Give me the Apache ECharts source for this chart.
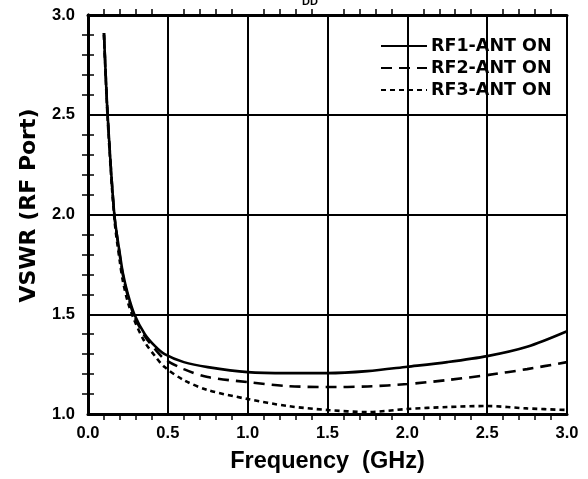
<!DOCTYPE html>
<html>
<head>
<meta charset="utf-8">
<script src="https://cdn.jsdelivr.net/npm/echarts@6/dist/echarts.min.js"></script>
<style>
html,body{margin:0;padding:0;background:#fff;}
#chart{width:588px;height:479px;}
</style>
</head>
<body>
<div id="chart"></div>
<script>
var freq = [0.1, 0.123, 0.165, 0.2, 0.22, 0.25, 0.29, 0.356, 0.42, 0.48, 0.6, 0.75, 1.0, 1.25, 1.5, 1.75, 2.0, 2.25, 2.5, 2.75, 3.0];
var rf1 = [2.91, 2.5, 2.0, 1.8, 1.7, 1.6, 1.5, 1.4, 1.34, 1.3, 1.26, 1.235, 1.21, 1.205, 1.205, 1.215, 1.237, 1.26, 1.29, 1.337, 1.415];
var rf2 = [2.91, 2.5, 2.0, 1.79, 1.69, 1.59, 1.49, 1.39, 1.325, 1.275, 1.225, 1.185, 1.16, 1.14, 1.135, 1.138, 1.15, 1.17, 1.195, 1.225, 1.26];
var rf3 = [2.9, 2.48, 1.98, 1.76, 1.66, 1.56, 1.47, 1.36, 1.29, 1.235, 1.17, 1.12, 1.075, 1.04, 1.02, 1.01, 1.025, 1.035, 1.04, 1.028, 1.02];
var seriesNames = ['RF1-ANT ON', 'RF2-ANT ON', 'RF3-ANT ON'];
var xTicks = ['0.0', '0.5', '1.0', '1.5', '2.0', '2.5', '3.0'];
var yTicks = ['1.0', '1.5', '2.0', '2.5', '3.0'];

function pairs(xs, ys) { return xs.map(function (x, i) { return [x, ys[i]]; }); }

var FONT = '"Liberation Sans", Arial, sans-serif';
var WIDE = '"DejaVu Sans", sans-serif';
var chart = echarts.init(document.getElementById('chart'), null, {renderer: 'canvas'});

var minorTick = {show: true, splitNumber: 5, length: 6, lineStyle: {color: '#000', width: 1.5}};
var axisLineStyle = {show: true, lineStyle: {color: '#000', width: 3}};

chart.setOption({
  animation: false,
  backgroundColor: '#fff',
  title: {
    text: 'DD', left: 297, top: -9,
    textStyle: {fontFamily: FONT, fontWeight: 'bold', fontSize: 11, color: '#000'}
  },
  grid: {left: 88, right: 21, top: 15, bottom: 65},
  legend: {
    orient: 'vertical', left: 375, top: 32, itemGap: 4,
    itemWidth: 46, itemHeight: 16,
    data: seriesNames,
    itemStyle: {opacity: 0},
    textStyle: {fontFamily: WIDE, fontWeight: 'bold', fontSize: 17.5, color: '#000', padding: [0, 0, 0, -1]}
  },
  xAxis: [{
    type: 'value', min: 0, max: 3, interval: 0.5,
    axisLine: axisLineStyle,
    axisTick: {show: false},
    minorTick: minorTick,
    splitLine: {show: true, lineStyle: {color: '#000', width: 2}},
    axisLabel: {
      margin: 11, color: '#000', fontFamily: FONT, fontWeight: 'bold', fontSize: 16.5,
      formatter: function (v) { return xTicks[Math.round(v / 0.5)]; }
    },
    name: 'Frequency  (GHz)', nameLocation: 'middle', nameGap: 36,
    nameTextStyle: {fontFamily: FONT, fontWeight: 'bold', fontSize: 23.5, color: '#000'}
  }, {
    type: 'value', min: 0, max: 3, interval: 0.5, position: 'top',
    axisLine: axisLineStyle, axisTick: {show: false}, minorTick: minorTick,
    splitLine: {show: false}, axisLabel: {show: false}
  }],
  yAxis: [{
    type: 'value', min: 1, max: 3, interval: 0.5,
    axisLine: axisLineStyle,
    axisTick: {show: false},
    minorTick: minorTick,
    splitLine: {show: true, lineStyle: {color: '#000', width: 2}},
    axisLabel: {
      margin: 13, color: '#000', fontFamily: FONT, fontWeight: 'bold', fontSize: 16.5,
      formatter: function (v) { return yTicks[Math.round((v - 1) / 0.5)]; }
    },
    name: 'VSWR (RF Port)', nameLocation: 'middle', nameGap: 48, nameRotate: 90,
    nameTextStyle: {fontFamily: WIDE, fontWeight: 'bold', fontSize: 22, color: '#000', padding: [0, 0, 0, 18]}
  }, {
    type: 'value', min: 1, max: 3, interval: 0.5, position: 'right',
    axisLine: axisLineStyle, axisTick: {show: false}, minorTick: minorTick,
    splitLine: {show: false}, axisLabel: {show: false}
  }],
  series: [{
    name: seriesNames[0], type: 'line', smooth: 0.3, symbol: 'none',
    data: pairs(freq, rf1),
    lineStyle: {color: '#000', width: 2.6, type: 'solid'},
    itemStyle: {color: '#000'}
  }, {
    name: seriesNames[1], type: 'line', smooth: 0.3, symbol: 'none',
    data: pairs(freq, rf2),
    lineStyle: {color: '#000', width: 2.6, type: [11, 7]},
    itemStyle: {color: '#000'}
  }, {
    name: seriesNames[2], type: 'line', smooth: 0.3, symbol: 'none',
    data: pairs(freq, rf3),
    lineStyle: {color: '#000', width: 2.6, type: [5, 4]},
    itemStyle: {color: '#000'}
  }]
});
</script>
</body>
</html>
